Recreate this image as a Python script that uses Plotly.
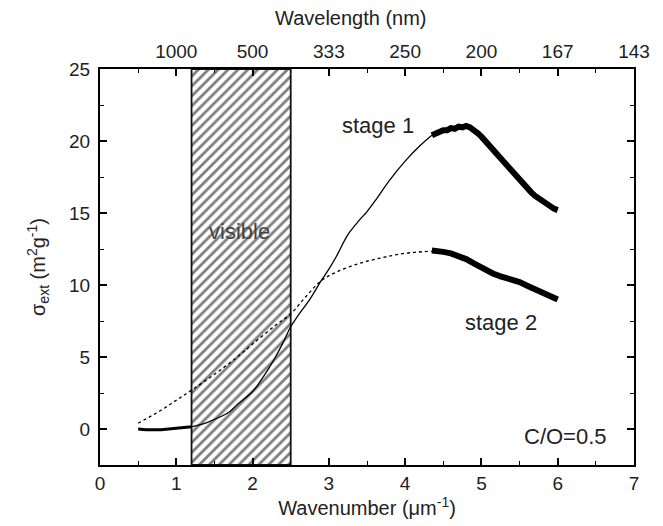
import plotly.graph_objects as go

# ---------------- data ----------------
# stage 1 (solid) low-wavenumber measured part
s1a_x = [0.5, 0.6, 0.8, 1.0, 1.2]
s1a_y = [0.0, -0.05, -0.05, 0.05, 0.15]
# stage 1 (solid) smooth part
s1_x = [1.2, 1.4, 1.6, 1.7, 1.8, 2.0, 2.1, 2.2, 2.3, 2.4, 2.5,
        2.6, 2.75, 2.9, 3.0, 3.1, 3.25, 3.4, 3.5, 3.6, 3.8, 4.0, 4.2, 4.35]
s1_y = [0.15, 0.45, 0.9, 1.2, 1.7, 2.6, 3.3, 4.1, 5.0, 6.0, 7.1,
        7.9, 9.0, 10.3, 11.1, 12.0, 13.5, 14.5, 15.1, 15.8, 17.3, 18.6, 19.7, 20.4]
# stage 1 noisy measured part
s1n_x = [4.35, 4.4, 4.45, 4.5, 4.55, 4.6, 4.65, 4.7, 4.75, 4.8, 4.85, 4.9, 4.95, 5.0,
         5.05, 5.1, 5.15, 5.2, 5.25, 5.3, 5.35, 5.4, 5.45, 5.5, 5.55, 5.6, 5.65, 5.7,
         5.75, 5.8, 5.85, 5.9, 5.95, 6.0]
s1n_y = [20.4, 20.55, 20.6, 20.75, 20.75, 20.9, 20.85, 21.0, 20.95, 21.05, 20.95, 20.8, 20.55, 20.3,
         20.0, 19.7, 19.4, 19.05, 18.7, 18.4, 18.1, 17.8, 17.5, 17.2, 16.95, 16.7, 16.45, 16.2,
         16.0, 15.8, 15.6, 15.45, 15.3, 15.2]

# stage 2 (dotted) smooth part
s2_x = [0.5, 0.8, 1.0, 1.2, 1.5, 1.8, 2.0, 2.3, 2.5, 2.7, 2.9, 3.1, 3.4, 3.7, 4.0, 4.35]
s2_y = [0.4, 1.3, 2.0, 2.7, 3.8, 5.0, 5.9, 7.2, 8.0, 9.2, 10.3, 10.9, 11.5, 11.9, 12.2, 12.35]
# stage 2 noisy measured part
s2n_x = [4.35, 4.4, 4.5, 4.6, 4.7, 4.75, 4.8, 4.9, 5.0, 5.06, 5.15, 5.25, 5.35, 5.5,
         5.6, 5.7, 5.8, 5.9, 6.0]
s2n_y = [12.4, 12.4, 12.3, 12.2, 12.05, 11.95, 11.8, 11.5, 11.2, 11.0, 10.8, 10.6, 10.45, 10.2,
         9.95, 9.7, 9.5, 9.25, 9.0]

visible_band = [1.2, 2.5]
y_range = [-2.5, 25]
x_range = [0, 7]
y_major = [0, 5, 10, 15, 20, 25]
y_minor = [-2.5, 2.5, 7.5, 12.5, 17.5, 22.5]
top_tick_vals = [1, 2, 3, 4, 5, 6, 7]
top_tick_text = ["1000", "500", "333", "250", "200", "167", "143"]

FONT = "Liberation Sans, Arial, sans-serif"
TXT = "#222222"

fig = go.Figure()

# hatched visible band
fig.add_trace(go.Scatter(
    x=[visible_band[0], visible_band[1], visible_band[1], visible_band[0], visible_band[0]],
    y=[y_range[0], y_range[0], y_range[1], y_range[1], y_range[0]],
    mode="lines", fill="toself",
    fillcolor="white",
    fillpattern=dict(shape="/", size=7, solidity=0.4, fgcolor="black", bgcolor="white"),
    line=dict(color="#111111", width=1.8),
    showlegend=False, hoverinfo="skip"))

# stage 2 dotted
fig.add_trace(go.Scatter(x=s2_x, y=s2_y, mode="lines",
                         line=dict(color="black", width=1.3, dash="dot", shape="spline"),
                         showlegend=False))
fig.add_trace(go.Scatter(x=s2n_x, y=s2n_y, mode="lines",
                         line=dict(color="black", width=6),
                         showlegend=False))
# stage 1 solid
fig.add_trace(go.Scatter(x=s1a_x, y=s1a_y, mode="lines",
                         line=dict(color="black", width=3),
                         showlegend=False))
fig.add_trace(go.Scatter(x=s1_x, y=s1_y, mode="lines",
                         line=dict(color="black", width=1.3, shape="spline"),
                         showlegend=False))
fig.add_trace(go.Scatter(x=s1n_x, y=s1n_y, mode="lines",
                         line=dict(color="black", width=6),
                         showlegend=False))

# dummy trace on top axis
fig.add_trace(go.Scatter(x=[None], y=[None], xaxis="x2", showlegend=False))

ann_font = dict(family=FONT, size=22, color=TXT)
fig.add_annotation(x=3.64, y=21.1, text="stage 1", showarrow=False, font=ann_font)
fig.add_annotation(x=5.25, y=7.4, text="stage 2", showarrow=False, font=ann_font)
fig.add_annotation(x=1.83, y=13.7, text="visible", showarrow=False,
                   font=dict(family=FONT, size=22, color="#444444"))
fig.add_annotation(x=6.67, y=-0.55, text="C/O=0.5", showarrow=False, xanchor="right",
                   font=ann_font)
# top axis title (sits slightly left of centre in the original)
fig.add_annotation(xref="paper", yref="paper", x=0.47, y=1.0, yshift=38,
                   yanchor="bottom", text="Wavelength (nm)", showarrow=False,
                   font=dict(family=FONT, size=20, color=TXT))

axis_common = dict(
    showline=True, linecolor="black", linewidth=2,
    ticks="inside", ticklen=7, tickwidth=1.5, tickcolor="black",
    showgrid=False, zeroline=False,
    tickfont=dict(family=FONT, size=19, color=TXT),
)

fig.update_layout(
    width=663, height=526,
    margin=dict(l=100, r=29, t=69, b=61),
    plot_bgcolor="white", paper_bgcolor="white",
    font=dict(family=FONT, color=TXT),
    xaxis=dict(range=x_range, dtick=1, tick0=0, mirror="ticks",
               minor=dict(ticks="inside", ticklen=4, tickwidth=1.2, dtick=0.5, tickcolor="black"),
               title=dict(text="Wavenumber (μm<sup>-1</sup>)", standoff=2,
                          font=dict(family=FONT, size=20, color=TXT)),
               **axis_common),
    xaxis2=dict(range=x_range, overlaying="x", side="top", showline=False,
                tickvals=top_tick_vals, ticktext=top_tick_text, ticks="",
                ticklabelstandoff=6,
                showgrid=False, zeroline=False,
                tickfont=dict(family=FONT, size=19, color=TXT)),
    yaxis=dict(range=y_range, tickvals=y_major, mirror="ticks",
               ticklabelstandoff=4,
               minor=dict(ticks="inside", ticklen=4, tickwidth=1.2,
                          tickvals=y_minor, tickcolor="black"),
               title=dict(text="σ<sub>ext</sub> (m<sup>2</sup>g<sup>-1</sup>)", standoff=18,
                          font=dict(family=FONT, size=20, color=TXT)),
               **axis_common),
)

fig.write_html("out.html")
